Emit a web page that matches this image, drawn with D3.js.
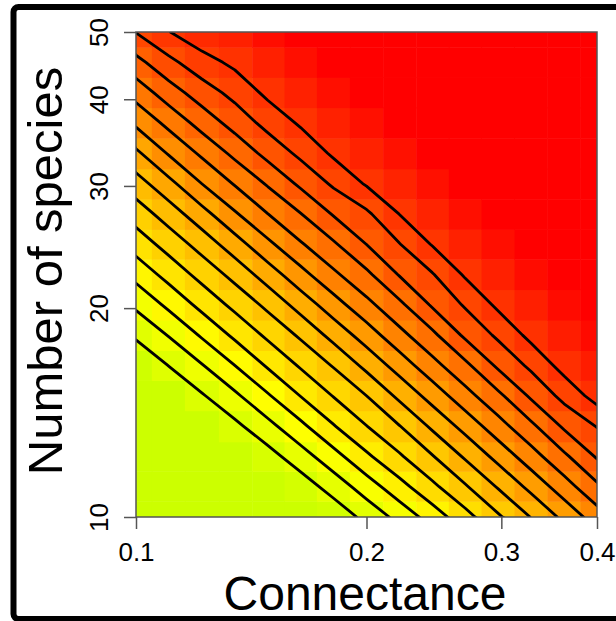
<!DOCTYPE html>
<html>
<head>
<meta charset="utf-8">
<script src="https://cdn.jsdelivr.net/npm/d3@7"></script>
<style>
  body { margin: 0; background: #fff; }
  svg { display: block; font-family: "Liberation Sans", Arial, sans-serif; }
</style>
</head>
<body>
<div id="chart"></div>
<script>
// grid columns (connectance) and grid rows (number of species, bottom to top)
const connectance = [0.100, 0.110, 0.122, 0.135, 0.149, 0.164, 0.181, 0.200, 0.221, 0.244, 0.269, 0.297, 0.328, 0.362, 0.400];
const species = [10, 11.1, 12.2, 13.5, 15.0, 16.5, 18.3, 20.2, 22.4, 24.7, 27.3, 30.2, 33.4, 37.0, 40.9, 45.2, 50];

// surface value per cell, one row per species value (S = 10 first)
const row10 = [0, 0, 0, 0, 0, 0, 0.32, 1.29, 2.32, 3.45, 4.64, 5.85, 7.04, 8.25, 9.52];
const row11 = [0, 0, 0, 0, 0, 0.47, 1.42, 2.49, 3.64, 4.77, 5.89, 7.09, 8.28, 9.55, 10.81];
const row12 = [0, 0, 0, 0, 0.61, 1.56, 2.63, 3.82, 4.87, 5.94, 7.14, 8.32, 9.58, 10.80, 12.11];
const row13 = [0, 0, 0, 0.76, 1.69, 2.76, 3.94, 4.98, 5.97, 7.19, 8.35, 9.61, 10.78, 12.17, 13.05];
const row15 = [0, 0, 0.90, 1.81, 2.89, 4.03, 5.05, 6.00, 7.23, 8.39, 9.64, 10.76, 12.17, 13.30, 14.41];
const row16 = [0.15, 1.03, 1.94, 3.00, 4.12, 5.12, 6.08, 7.27, 8.43, 9.67, 10.75, 12.19, 13.21, 14.38, 15.42];
const row18 = [1.16, 2.06, 3.12, 4.20, 5.19, 6.16, 7.34, 8.47, 9.70, 10.76, 12.20, 13.18, 14.29, 15.39, 16.43];
const row20 = [2.19, 3.22, 4.29, 5.26, 6.24, 7.41, 8.56, 9.72, 10.77, 12.13, 13.11, 14.21, 15.30, 16.40, 17];
const row22 = [3.33, 4.36, 5.33, 6.32, 7.48, 8.66, 9.81, 10.78, 12.07, 12.93, 14.13, 15.22, 16.31, 17, 17];
const row25 = [4.44, 5.39, 6.40, 7.55, 8.77, 9.90, 10.86, 12.01, 12.96, 14.07, 15.14, 16.23, 17, 17, 17];
const row27 = [5.45, 6.48, 7.63, 8.88, 9.99, 10.97, 12.09, 12.81, 14.02, 15.08, 16.15, 17, 17, 17, 17];
const row30 = [6.56, 7.71, 9.01, 10.08, 11.11, 12.20, 13.16, 14.11, 15.03, 16.09, 17, 17, 17, 17, 17];
const row33 = [7.79, 9.10, 10.18, 11.25, 12.32, 13.23, 14.17, 15.12, 16.04, 17, 17, 17, 17, 17, 17];
const row37 = [9.19, 10.28, 11.39, 12.39, 13.32, 14.14, 15.18, 16.13, 17, 17, 17, 17, 17, 17, 17];
const row41 = [10.39, 11.53, 12.51, 13.31, 14.23, 15.15, 16.19, 17, 17, 17, 17, 17, 17, 17, 17];
const row45 = [11.68, 12.74, 13.60, 14.23, 15.24, 16.16, 17, 17, 17, 17, 17, 17, 17, 17, 17];
const row50 = [13.04, 13.97, 14.68, 15.24, 16.25, 17, 17, 17, 17, 17, 17, 17, 17, 17, 17];

const levels = [1, 2, 3, 4, 5, 6, 7, 8, 9, 10, 11, 12, 13, 14];
const xTicks = [0.1, 0.2, 0.3, 0.4];
const yTicks = [10, 20, 30, 40, 50];

const rows = [row10, row11, row12, row13, row15, row16, row18, row20, row22, row25,
  row27, row30, row33, row37, row41, row45, row50];

const w = 616, h = 621;
const margin = { top: 32, right: 19, bottom: 104, left: 136 };

const svg = d3.select('#chart').append('svg')
  .attr('width', w)
  .attr('height', h);

const xScale = d3.scaleLog()
  .domain([0.1, 0.4])
  .range([margin.left, w - margin.right]);

const yScale = d3.scaleLog()
  .domain([10, 50])
  .range([h - margin.bottom, margin.top]);

// yellow-green (low) -> red (high), like a reversed partial rainbow
const hue = d3.scaleLinear().domain([0, 17]).range([72, 0]).clamp(true);
const colour = v => d3.hsl(hue(v), 1, 0.5).formatHex();

const plotW = xScale.range()[1] - margin.left;
const plotH = yScale.range()[0] - margin.top;

svg.append('clipPath').attr('id', 'plotclip')
  .append('rect')
  .attr('x', margin.left).attr('y', margin.top)
  .attr('width', plotW)
  .attr('height', plotH);

// cell edges halfway between grid points (in screen space, i.e. log space)
const xpx = connectance.map(d => xScale(d));
const ypx = species.map(d => yScale(d));
const edge = (arr, i, side) => {
  if (side < 0) return i === 0 ? arr[0] : (arr[i - 1] + arr[i]) / 2;
  return i === arr.length - 1 ? arr[i] : (arr[i] + arr[i + 1]) / 2;
};

const cells = [];
rows.forEach((r, j) => r.forEach((v, i) => cells.push({ i, j, v })));

const plot = svg.append('g').attr('clip-path', 'url(#plotclip)');

plot.selectAll('rect.cell')
  .data(cells)
  .enter()
  .append('rect')
  .attr('class', 'cell')
  .attr('x', d => edge(xpx, d.i, -1))
  .attr('y', d => edge(ypx, d.j, 1))
  .attr('width', d => edge(xpx, d.i, 1) - edge(xpx, d.i, -1) + 0.5)
  .attr('height', d => edge(ypx, d.j, -1) - edge(ypx, d.j, 1) + 0.5)
  .attr('fill', d => colour(d.v));

// contour lines, grid coordinates mapped back onto the log axes
const nx = connectance.length, ny = species.length;
const gx = d3.scaleLinear().domain([0.5, nx - 0.5]).range([xpx[0], xpx[nx - 1]]);
const gy = d3.scaleLinear().domain([0.5, ny - 0.5]).range([ypx[0], ypx[ny - 1]]);
const path = d3.geoPath(d3.geoTransform({
  point: function (x, y) { this.stream.point(gx(x), gy(y)); }
}));

const contours = d3.contours()
  .size([nx, ny])
  .thresholds(levels)(rows.flat());

plot.selectAll('path.iso')
  .data(contours)
  .enter()
  .append('path')
  .attr('class', 'iso')
  .attr('d', path)
  .attr('fill', 'none')
  .attr('stroke', '#000')
  .attr('stroke-width', 2.8)
  .attr('stroke-linejoin', 'round');

// box
svg.append('rect')
  .attr('x', margin.left).attr('y', margin.top)
  .attr('width', plotW)
  .attr('height', plotH)
  .attr('fill', 'none')
  .attr('stroke', '#555')
  .attr('stroke-width', 1.5);

// axes
const xAxis = d3.axisBottom(xScale).tickValues(xTicks).tickFormat(d3.format('.1f')).tickSize(12);
const gX = svg.append('g')
  .attr('transform', 'translate(0,' + (h - margin.bottom) + ')')
  .call(xAxis);
gX.select('.domain').remove();
gX.selectAll('line').attr('stroke', '#555').attr('stroke-width', 1.5);
gX.selectAll('text')
  .attr('y', 44).attr('dy', 0)
  .attr('font-size', 26)
  .attr('fill', '#000');

const yAxis = d3.axisLeft(yScale).tickValues(yTicks).tickFormat(d3.format('d')).tickSize(12);
const gY = svg.append('g')
  .attr('transform', 'translate(' + margin.left + ',0)')
  .call(yAxis);
gY.select('.domain').remove();
gY.selectAll('line').attr('stroke', '#555').attr('stroke-width', 1.5);
gY.selectAll('text')
  .attr('x', 0).attr('dy', 0)
  .attr('transform', 'translate(-28,0) rotate(-90)')
  .attr('text-anchor', 'middle')
  .attr('font-size', 26)
  .attr('fill', '#000');

// titles
svg.append('text')
  .attr('x', 365).attr('y', 610)
  .attr('text-anchor', 'middle')
  .attr('font-size', 48)
  .text('Connectance');

svg.append('text')
  .attr('transform', 'translate(62,271) rotate(-90)')
  .attr('text-anchor', 'middle')
  .attr('font-size', 49)
  .text('Number of species');

// outer frame
svg.append('rect')
  .attr('x', 13.5).attr('y', 7)
  .attr('width', 640).attr('height', 612)
  .attr('rx', 5)
  .attr('fill', 'none')
  .attr('stroke', '#000')
  .attr('stroke-width', 6);
</script>
</body>
</html>
